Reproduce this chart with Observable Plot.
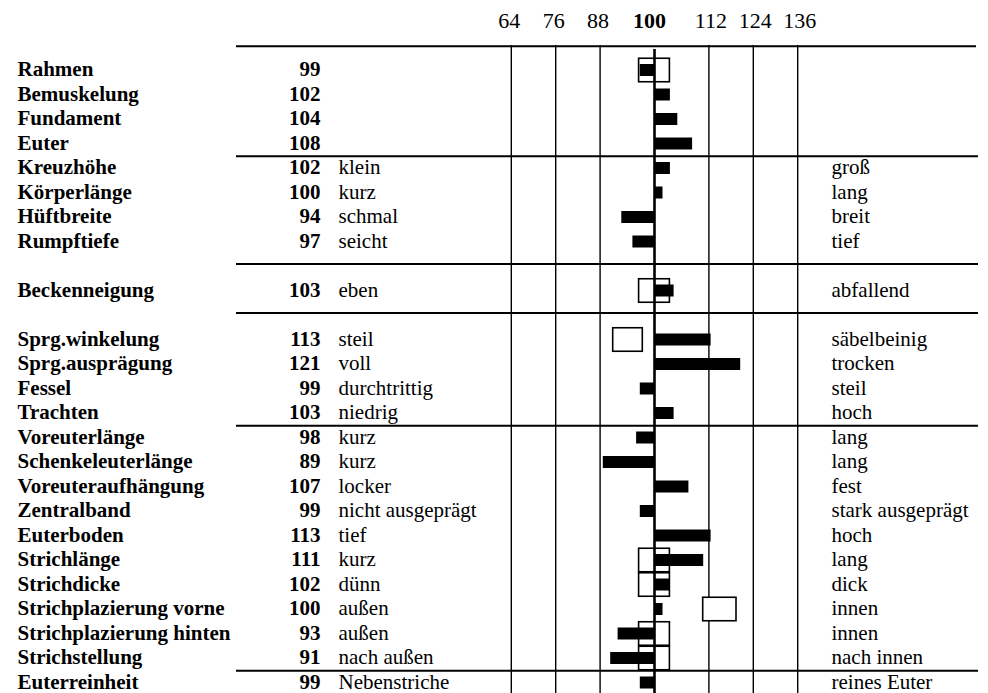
<!DOCTYPE html>
<html><head><meta charset="utf-8">
<script src="https://cdn.jsdelivr.net/npm/d3@7"></script>
<script src="https://cdn.jsdelivr.net/npm/@observablehq/plot@0.6"></script>
<style>body{margin:0;background:#fff;} svg{display:block}</style>
</head><body><div id="chart"></div>
<script>
const traits = ["Rahmen","Bemuskelung","Fundament","Euter","Kreuzhöhe","Körperlänge","Hüftbreite","Rumpftiefe","Beckenneigung","Sprg.winkelung","Sprg.ausprägung","Fessel","Trachten","Voreuterlänge","Schenkeleuterlänge","Voreuteraufhängung","Zentralband","Euterboden","Strichlänge","Strichdicke","Strichplazierung vorne","Strichplazierung hinten","Strichstellung","Euterreinheit"];
const values = [99,102,104,108,102,100,94,97,103,113,121,99,103,98,89,107,99,113,111,102,100,93,91,99];
const lowLabels = ["","","","","klein","kurz","schmal","seicht","eben","steil","voll","durchtrittig","niedrig","kurz","kurz","locker","nicht ausgeprägt","tief","kurz","dünn","außen","außen","nach außen","Nebenstriche"];
const highLabels = ["","","","","groß","lang","breit","tief","abfallend","säbelbeinig","trocken","steil","hoch","lang","lang","fest","stark ausgeprägt","hoch","lang","dick","innen","innen","nach innen","reines Euter"];
const boxTraits = ["Rahmen","Beckenneigung","Sprg.winkelung","Strichlänge","Strichdicke","Strichplazierung vorne","Strichplazierung hinten","Strichstellung"];
const boxLow = [98,98,91,98,98,111,98,98];
const boxHigh = [102,102,99,102,102,120,102,102];
const ticks = [64,76,88,100,112,124,136];
const sectionEnds = ["Euter","Trachten","Strichstellung"];
const gapAfter = {"Rumpftiefe":"gap1","Beckenneigung":"gap2"};

const slots = traits.flatMap(t => gapAfter[t] ? [t, gapAfter[t]] : [t]);
const rows = traits.map((t,i) => ({trait:t, value:values[i], low:lowLabels[i], high:highLabels[i]}));
const boxes = boxTraits.map((t,i) => ({trait:t, lo:boxLow[i], hi:boxHigh[i]}));
const font = "Liberation Serif, Times New Roman, serif";
const ROW = 24.5, Y0 = 57.75, FS = 21;
const line = {stroke:"black"};
const head = {frameAnchor:"top", lineAnchor:"middle", dy:-25, fontFamily:font, fontSize:22, fill:"black"};
const lab = {y:"trait", frameAnchor:"left", dy:-1.2, fontFamily:font, fontSize:FS, fill:"black"};

const chart = Plot.plot({
  width: 988, height: 693,
  marginTop: 45, marginBottom: 0, marginLeft: 0, marginRight: 0,
  style: {background:"white"},
  x: {domain:[64,136], range:[520.8,787.2], axis:null},
  y: {type:"band", domain:slots, range:[Y0, Y0 + ROW*slots.length], padding:0, round:false, axis:null},
  marks: [
    // grid lines
    Plot.ruleX(ticks.filter(v => v < 100), {x:d=>d, dx:-10, ...line, strokeWidth:1.4}),
    Plot.ruleX(ticks.filter(v => v > 100), {x:d=>d, dx:10, ...line, strokeWidth:1.4}),
    // horizontal rules
    Plot.ruleY(["Rahmen"], {y:d=>d, dy:-24.3, ...line, strokeWidth:2, insetLeft:236, insetRight:12}),
    Plot.ruleY(sectionEnds, {y:d=>d, dy:ROW/2, ...line, strokeWidth:2, insetLeft:236, insetRight:10}),
    Plot.ruleY(["gap1","gap2"], {y:d=>d, dy:-2.5, ...line, strokeWidth:2, insetLeft:236, insetRight:10}),
    // target boxes
    Plot.barX(boxes.filter(d => d.lo < 100 && d.hi > 100), {x1:"lo", x2:"hi", y:"trait", fill:"white", stroke:"black", strokeWidth:1.6, insetLeft:-8, insetRight:-8, insetTop:0.5, insetBottom:0.5}),
    Plot.barX(boxes.filter(d => d.hi <= 100), {x1:"lo", x2:"hi", y:"trait", dx:-8, fill:"white", stroke:"black", strokeWidth:1.6, insetTop:0.5, insetBottom:0.5}),
    Plot.barX(boxes.filter(d => d.lo >= 100), {x1:"lo", x2:"hi", y:"trait", dx:8, fill:"white", stroke:"black", strokeWidth:1.6, insetTop:0.5, insetBottom:0.5}),
    // bars
    Plot.barX(rows.filter(d => d.value >= 100), {x1:100, x2:"value", y:"trait", fill:"black", insetRight:-8.5, insetTop:6.25, insetBottom:6.25}),
    Plot.barX(rows.filter(d => d.value < 100), {x1:100, x2:"value", y:"trait", fill:"black", insetLeft:-10.5, insetTop:6.25, insetBottom:6.25}),
    // centre line
    Plot.ruleX([100], {x:d=>d, ...line, strokeWidth:2.6, insetTop:4}),
    // header labels
    Plot.text(ticks.filter(v => v < 100), {x:d=>d, dx:-12, text:d=>String(d), ...head}),
    Plot.text(ticks.filter(v => v > 100), {x:d=>d, dx:12, text:d=>String(d), ...head}),
    Plot.text(ticks.filter(v => v === 100), {x:d=>d, dx:-5, text:d=>String(d), ...head, fontWeight:"bold"}),
    // row labels
    Plot.text(rows, {...lab, text:"trait", textAnchor:"start", dx:17, fontWeight:"bold"}),
    Plot.text(rows, {...lab, text:d=>String(d.value), textAnchor:"end", dx:320, fontWeight:"bold"}),
    Plot.text(rows, {...lab, text:"low", textAnchor:"start", dx:338}),
    Plot.text(rows, {...lab, text:"high", textAnchor:"start", dx:831})
  ]
});
document.getElementById("chart").appendChild(chart);
</script>
</body></html>
